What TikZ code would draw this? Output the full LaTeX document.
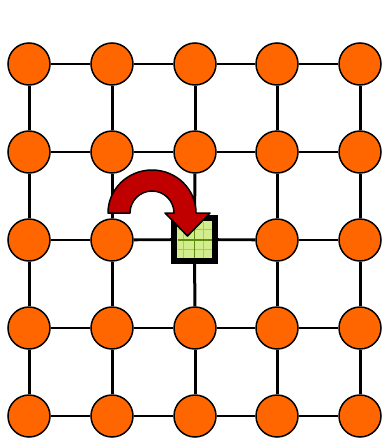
\documentclass[tikz,border=0pt]{standalone}
\definecolor{dotorange}{HTML}{FF6600}
\definecolor{arrowred}{HTML}{C00000}
\definecolor{cellgreen}{HTML}{D2EE8C}
\definecolor{gridgreen}{HTML}{A6D04C}
\definecolor{darkgreen}{HTML}{5E8A10}
\tikzset{
  dot/.style={circle, draw=black, line width=1.5pt, fill=dotorange, minimum size=42pt, inner sep=0pt},
  cellbox/.style={rectangle, draw=black, line width=6pt, fill=cellgreen, minimum width=41pt, minimum height=43pt, inner sep=0pt},
  hlink/.style={line width=2.2pt},
  hlinkb/.style={line width=2.8pt},
  vlink/.style={line width=3pt},
  bendarrow/.style={fill=arrowred, draw=black, line width=1.5pt, line join=round}
}
\begin{document}
\begin{tikzpicture}[x=1pt,y=1pt]
\useasboundingbox (0,0) rectangle (385,-439);
% nodes
\foreach \i/\x in {1/29,2/112,3/195,4/277,5/360}{
  \foreach \j/\y in {1/64,2/152,3/240,4/328,5/416}{
    \ifnum\i=3 \ifnum\j=3 \else
      \node[dot] (n-\i-\j) at (\x,-\y) {};
    \fi\else
      \node[dot] (n-\i-\j) at (\x,-\y) {};
    \fi
  }
}
\node[cellbox] (n-3-3) at (194.5,-239.5) {};
% grid inside the cell
\draw[gridgreen, line width=0.9pt]
  (183.5,-221.5) -- (183.5,-257.5)
  (203.5,-221.5) -- (203.5,-257.5)
  (177.5,-229.5) -- (211.5,-229.5)
  (177.5,-249.5) -- (211.5,-249.5);
\draw[darkgreen, line width=1.8pt]
  (194.5,-221.5) -- (194.5,-257.5)
  (177.5,-240) -- (211.5,-240);
% horizontal links
\foreach \j in {1,2}{
  \draw[hlink] (n-1-\j) -- (n-2-\j);
  \draw[hlink] (n-2-\j) -- (n-3-\j);
  \draw[hlink] (n-3-\j) -- (n-4-\j);
  \draw[hlink] (n-4-\j) -- (n-5-\j);
}
\foreach \j in {3,4,5}{
  \draw[hlinkb] (n-1-\j) -- (n-2-\j);
  \draw[hlinkb] (n-2-\j) -- (n-3-\j);
  \draw[hlinkb] (n-3-\j) -- (n-4-\j);
  \draw[hlinkb] (n-4-\j) -- (n-5-\j);
}
% vertical links
\foreach \i in {1,2,3,4,5}{
  \draw[vlink] (n-\i-1) -- (n-\i-2);
  \draw[vlink] (n-\i-2) -- (n-\i-3);
  \draw[vlink] (n-\i-3) -- (n-\i-4);
  \draw[vlink] (n-\i-4) -- (n-\i-5);
}
% curved arrow
\draw[bendarrow] (108,-213) arc[start angle=180, end angle=0, x radius=44, y radius=43]
  -- (210,-213) -- (187.5,-236) -- (165,-213) -- (174,-213)
  arc[start angle=0, end angle=180, radius=22] -- cycle;
\end{tikzpicture}
\end{document}
